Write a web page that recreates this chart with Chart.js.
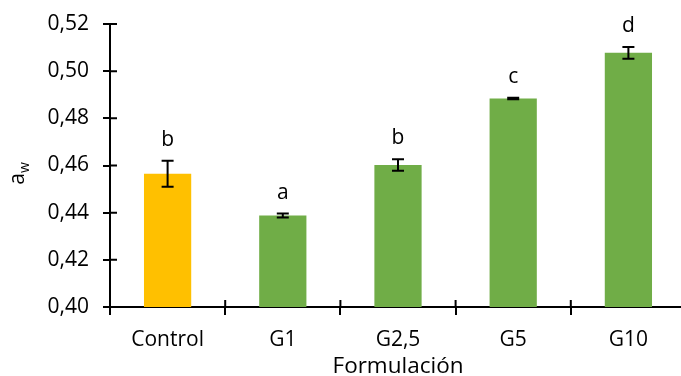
<!DOCTYPE html>
<html>
<head>
<meta charset="utf-8">
<script src="https://cdn.jsdelivr.net/npm/chart.js@4"></script>
<style>
  body { margin: 0; background: #fff; }
  #wrap { width: 681px; height: 376px; overflow: hidden; }
</style>
</head>
<body>
<div id="wrap"><canvas id="chart" width="686" height="376"></canvas></div>
<script>
const categorias = ["Control", "G1", "G2,5", "G5", "G10"];
const medias = [0.4565, 0.4388, 0.4602, 0.4884, 0.5078];
const errores = [0.0055, 0.0008, 0.0024, 0.0003, 0.0025];
const letras = ["b", "a", "b", "c", "d"];
const ticksY = [0.40, 0.42, 0.44, 0.46, 0.48, 0.50, 0.52];

const fuente = "'Open Sans', sans-serif";

// barras de error y letras encima
const errorBars = {
    id: "errorBars",
    afterDatasetsDraw(chart) {
        const ctx = chart.ctx;
        const y = chart.scales.y;
        const meta = chart.getDatasetMeta(0);
        ctx.save();
        ctx.strokeStyle = "#000";
        ctx.lineWidth = 2;
        meta.data.forEach((bar, i) => {
            const top = y.getPixelForValue(medias[i] + errores[i]);
            const bot = y.getPixelForValue(medias[i] - errores[i]);
            ctx.beginPath();
            ctx.moveTo(bar.x, top); ctx.lineTo(bar.x, bot);
            ctx.moveTo(bar.x - 6, top); ctx.lineTo(bar.x + 6, top);
            ctx.moveTo(bar.x - 6, bot); ctx.lineTo(bar.x + 6, bot);
            ctx.stroke();
            ctx.fillStyle = "#000";
            ctx.font = "21px " + fuente;
            ctx.textAlign = "center";
            ctx.textBaseline = "middle";
            ctx.fillText(letras[i], bar.x, top - 21);
        });
        ctx.restore();
    }
};

// marcas que cruzan los ejes y titulo del eje y con subindice
const ejes = {
    id: "ejes",
    afterDraw(chart) {
        const ctx = chart.ctx;
        const x = chart.scales.x;
        const y = chart.scales.y;
        const area = chart.chartArea;
        ctx.save();
        ctx.strokeStyle = "#000";
        ctx.lineWidth = 2;
        ctx.beginPath();
        ticksY.forEach(v => {
            const py = y.getPixelForValue(v);
            ctx.moveTo(area.left, py); ctx.lineTo(area.left + 7, py);
        });
        for (let i = 0; i < categorias.length; i++) {
            const px = x.getPixelForValue(i) + (x.getPixelForValue(1) - x.getPixelForValue(0)) / 2;
            ctx.moveTo(px, area.bottom); ctx.lineTo(px, area.bottom - 7);
        }
        ctx.stroke();

        ctx.translate(24, (area.top + area.bottom) / 2 + 8);
        ctx.rotate(-Math.PI / 2);
        ctx.fillStyle = "#000";
        ctx.textBaseline = "alphabetic";
        ctx.font = "21px " + fuente;
        ctx.textAlign = "left";
        const wa = ctx.measureText("a").width;
        ctx.font = "14px " + fuente;
        const ww = ctx.measureText("w").width;
        const x0 = -(wa + ww) / 2;
        ctx.font = "21px " + fuente;
        ctx.fillText("a", x0, 0);
        ctx.font = "14px " + fuente;
        ctx.fillText("w", x0 + wa, 5);
        ctx.restore();
    }
};

new Chart(document.getElementById("chart"), {
    type: "bar",
    data: {
        labels: categorias,
        datasets: [{
            data: medias,
            backgroundColor: ["#FFC000", "#70AD47", "#70AD47", "#70AD47", "#70AD47"],
            barPercentage: 0.41,
            categoryPercentage: 1
        }]
    },
    options: {
        responsive: false,
        animation: false,
        layout: { padding: { top: 24, left: 0, right: 0 } },
        plugins: { legend: { display: false }, tooltip: { enabled: false } },
        scales: {
            x: {
                offset: true,
                grid: { display: true, drawOnChartArea: false, color: "#000", lineWidth: 2, tickLength: 8, offset: true },
                border: { color: "#000", width: 2 },
                ticks: { color: "#000", font: { family: fuente, size: 21 }, padding: 12 },
                title: { display: true, text: "Formulación", color: "#000", font: { family: fuente, size: 22.5 }, padding: { top: 0, bottom: -4 } },
                afterFit(scale) { scale.height = 69; }
            },
            y: {
                min: 0.40,
                max: 0.52,
                afterBuildTicks(scale) { scale.ticks = ticksY.map(v => ({ value: v })); },
                grid: { drawOnChartArea: false, color: "#000", lineWidth: 2, tickLength: 7 },
                border: { color: "#000", width: 2 },
                ticks: {
                    color: "#000",
                    font: { family: fuente, size: 21 },
                    padding: 14,
                    callback: v => v.toFixed(2).replace(".", ",")
                },
                afterFit(scale) {
                    scale.width = 110;
                    scale.paddingTop = 0;
                    scale.paddingBottom = 0;
                }
            }
        }
    },
    plugins: [errorBars, ejes]
});
</script>
</body>
</html>
